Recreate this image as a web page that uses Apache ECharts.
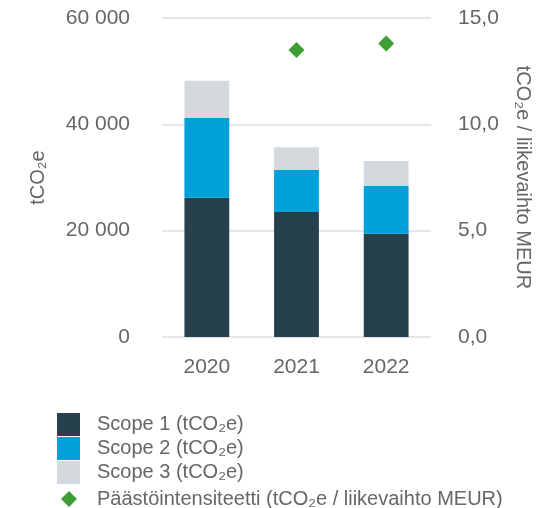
<!DOCTYPE html>
<html lang="fi">
<head>
    <meta charset="UTF-8">
    <title>Päästöt</title>
    <script src="https://cdn.jsdelivr.net/npm/echarts@6/dist/echarts.min.js"></script>
    <style>
        html, body { margin: 0; padding: 0; background: #fff; }
        #main { width: 543px; height: 508px; }
    </style>
</head>
<body>
<div id="main"></div>
<script type="text/javascript">
    // data
    var years = ['2020', '2021', '2022'];
    var scope1 = [26200, 23500, 19400];
    var scope2 = [15000, 7900, 9000];
    var scope3 = [7000, 4300, 4700];
    var intensity = [null, 13.5, 13.8];
    var leftTicks = [0, 20000, 40000, 60000];
    var rightTicks = [0, 5, 10, 15];

    var font = 'Liberation Sans, Arial, sans-serif';
    var grey = '#666';

    var myChart = echarts.init(document.getElementById('main'));

    var option = {
        animation: false,
        textStyle: { fontFamily: font },
        grid: { left: 162, right: 112, top: 18, bottom: 171 },
        legend: [
            {
                orient: 'vertical', left: 57, top: 413, padding: 0,
                itemWidth: 23, itemHeight: 23, itemGap: 1,
                icon: 'rect',
                textStyle: { fontSize: 20, color: grey, fontFamily: font, padding: [0, 0, 0, 12] },
                data: ['Scope 1 (tCO₂e)', 'Scope 2 (tCO₂e)', 'Scope 3 (tCO₂e)']
            },
            {
                orient: 'vertical', left: 61, top: 489, padding: 0,
                itemWidth: 16, itemHeight: 16,
                icon: 'diamond',
                textStyle: { fontSize: 20, color: grey, fontFamily: font, padding: [0, 0, 0, 15] },
                data: ['Päästöintensiteetti (tCO₂e / liikevaihto MEUR)']
            }
        ],
        xAxis: {
            type: 'category',
            data: years,
            axisLine: { show: false },
            axisTick: { show: false },
            axisLabel: { color: grey, fontSize: 21, margin: 20 }
        },
        yAxis: [
            {
                type: 'value',
                min: leftTicks[0], max: leftTicks[leftTicks.length - 1],
                interval: leftTicks[1] - leftTicks[0],
                name: 'tCO₂e',
                nameLocation: 'middle',
                nameGap: 114,
                nameTextStyle: { color: grey, fontSize: 20 },
                axisLine: { show: false },
                axisTick: { show: false },
                axisLabel: {
                    color: grey, fontSize: 21, margin: 32,
                    formatter: function (v) {
                        return String(v).replace(/\B(?=(\d{3})+(?!\d))/g, ' ');
                    }
                },
                splitLine: { lineStyle: { color: '#e6e6e6', width: 2 } }
            },
            {
                type: 'value',
                min: rightTicks[0], max: rightTicks[rightTicks.length - 1],
                interval: rightTicks[1] - rightTicks[0],
                name: 'tCO₂e / liikevaihto MEUR',
                nameLocation: 'middle',
                nameGap: 82,
                nameRotate: -90,
                nameTextStyle: { color: grey, fontSize: 20 },
                axisLine: { show: false },
                axisTick: { show: false },
                axisLabel: {
                    color: grey, fontSize: 21, margin: 27,
                    formatter: function (v) { return v.toFixed(1).replace('.', ','); }
                },
                splitLine: { show: false }
            }
        ],
        series: [
            {
                name: 'Scope 1 (tCO₂e)', type: 'bar', stack: 'co2',
                barWidth: '50%', data: scope1,
                itemStyle: { color: '#26404d' }
            },
            {
                name: 'Scope 2 (tCO₂e)', type: 'bar', stack: 'co2',
                data: scope2,
                itemStyle: { color: '#00a0da' }
            },
            {
                name: 'Scope 3 (tCO₂e)', type: 'bar', stack: 'co2',
                data: scope3,
                itemStyle: { color: '#d4d9de' }
            },
            {
                name: 'Päästöintensiteetti (tCO₂e / liikevaihto MEUR)',
                type: 'scatter', yAxisIndex: 1,
                symbol: 'diamond', symbolSize: 16,
                data: intensity,
                itemStyle: { color: '#3f9d35', opacity: 1 }
            }
        ]
    };

    myChart.setOption(option);
</script>
</body>
</html>
